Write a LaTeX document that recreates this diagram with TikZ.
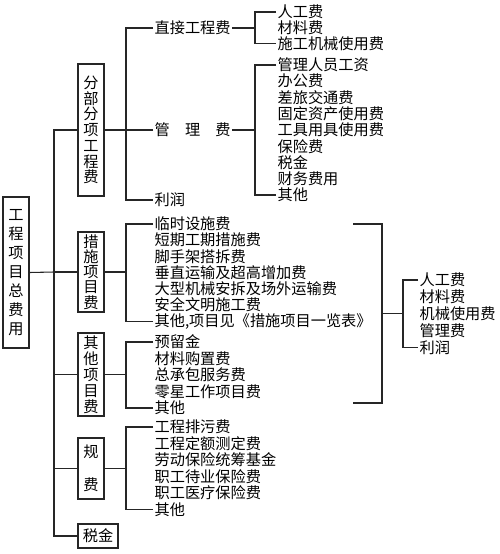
\documentclass[tikz,border=0pt]{standalone}
\usepackage{fontspec}
\newfontfamily\cjk{Noto Sans CJK SC}
\usetikzlibrary{calc}

\begin{document}
\begin{tikzpicture}[
    x=0.75pt, y=-0.75pt,
    link/.style={line width=0.8pt,black!85},
    lvbox/.style={draw=black!85,line width=0.8pt,inner sep=0pt,align=center,
                  minimum width=19.5pt,font=\cjk\fontsize{11.4pt}{#1}\selectfont},
    fitem/.style={anchor=west,inner sep=1pt,font=\cjk\fontsize{11.4pt}{12pt}\selectfont}]
\useasboundingbox (0,0) rectangle (500,554);
% ===== root box and first-level boxes =====
\node[lvbox=14.25pt,minimum height=113.25pt] (root)   at (16,272.5) {工\\程\\项\\目\\总\\费\\用};
\node[lvbox=11.8pt,minimum height=99pt]      (fbfx)   at (91,130)   {分\\部\\分\\项\\工\\程\\费};
\node[lvbox=11.4pt,minimum height=60pt]      (csxm)   at (91,272)   {措\\施\\项\\目\\费};
\node[lvbox=12pt,minimum height=62.25pt]     (qtxm)   at (91,374.5) {其\\他\\项\\目\\费};
\node[lvbox=24.75pt,minimum height=45.75pt]  (guifei) at (91,468.5) {规\\费};
\node[lvbox=12pt,minimum width=30pt,minimum height=18pt] (shuijin) at (98,536) {税金};
% ===== trunk =====
\coordinate (trunk) at (54,272);
\draw[link] (root.east) -- (trunk);
\draw[link] (fbfx.west) -| (trunk) |- (shuijin.west);
\draw[link] (trunk) -- (csxm.west);
\draw[link] (qtxm.west) -- (qtxm.west -| trunk);
\draw[link] (guifei.west) -- (guifei.west -| trunk);
% ===== 分部分项工程费 =====
\node[fitem] (zjgc)  at (153,28)  {直接工程费};
\node[fitem] (glf)   at (153,130) {管\quad 理\quad 费};
\node[fitem] (lirun) at (153,200) {利润};
\draw[link] (zjgc.west) -- ++(-27,0) coordinate (b1) |- (lirun.west);
\draw[link] (glf.west) -- (glf.west -| b1);
\draw[link] (fbfx.east) -- (fbfx.east -| b1);
\foreach \lbl [count=\i] in {人工费,材料费,施工机械使用费}
  \node[fitem] (rg\i) at (276,{12+15.7*(\i-1)}) {\lbl};
\draw[link] (rg1.west) -- ++(-21,0) coordinate (b2) |- (rg3.west);
\draw[link] (zjgc.east) -- (zjgc.east -| b2);
\foreach \lbl [count=\i] in {管理人员工资,办公费,差旅交通费,固定资产使用费,工具用具使用费,保险费,税金,财务费用,其他}
  \node[fitem] (gl\i) at (276,{65+16.25*(\i-1)}) {\lbl};
\draw[link] (gl1.west) -- ++(-21,0) coordinate (b3) |- (gl9.west);
\draw[link] (glf.east) -- (glf.east -| b3);
% ===== 措施项目费 =====
\foreach \lbl [count=\i] in {临时设施费,短期工期措施费,脚手架搭拆费,垂直运输及超高增加费,大型机械安拆及场外运输费,安全文明施工费,{其他,项目见《措施项目一览表》}}
  \node[fitem] (cs\i) at (153,{224+16.2*(\i-1)}) {\lbl};
\draw[link] (cs1.west) -- ++(-27,0) coordinate (b4) |- (cs7.west);
\draw[link] (csxm.east) -- (csxm.east -| b4);
% ===== 其他项目费 =====
\foreach \lbl [count=\i] in {预留金,材料购置费,总承包服务费,零星工作项目费,其他}
  \node[fitem] (qt\i) at (153,{342+16.5*(\i-1)}) {\lbl};
\draw[link] (qt1.west) -- ++(-27,0) coordinate (b5) |- (qt5.west);
\draw[link] (qtxm.east) -- (qtxm.east -| b5);
% ===== 规费 =====
\foreach \lbl [count=\i] in {工程排污费,工程定额测定费,劳动保险统筹基金,职工待业保险费,职工医疗保险费,其他}
  \node[fitem] (gf\i) at (153,{427+16.5*(\i-1)}) {\lbl};
\draw[link] (gf1.west) -- ++(-27,0) coordinate (b6) |- (gf6.west);
\draw[link] (guifei.east) -- (guifei.east -| b6);
% ===== big bracket on the right =====
\coordinate (bt) at (353,224);
\coordinate (bm) at (382,313.8);
\coordinate (bb) at (353,403);
\draw[link] (bt) -| (bm) |- (bb);
\foreach \lbl [count=\i] in {人工费,材料费,机械使用费,管理费,利润}
  \node[fitem] (rf\i) at (418,{280+16.9*(\i-1)}) {\lbl};
\draw[link] (rf1.west) -- ++(-15,0) coordinate (b7) |- (rf5.west);
\draw[link] (bm) -- (bm -| b7);
\end{tikzpicture}
\end{document}
